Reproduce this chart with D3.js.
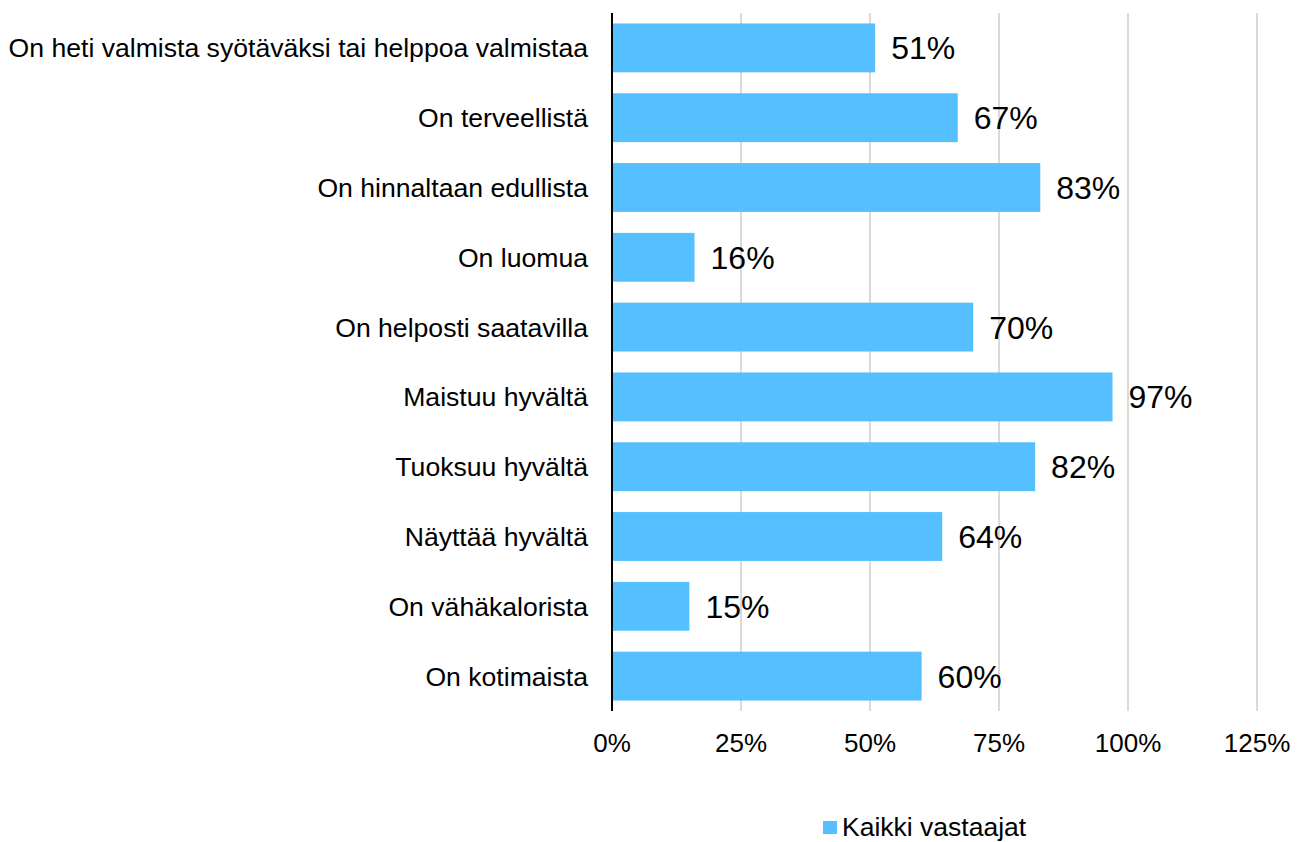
<!DOCTYPE html>
<meta charset="utf-8">
<style>
body { margin: 0; background: #fff; }
text { font-family: 'Liberation Sans', Arial, sans-serif; fill: #000; }
</style>
<body>
<svg width="1299" height="842"></svg>
<script src="https://d3js.org/d3.v7.min.js"></script>
<script>

var categories = [
  "On heti valmista syötäväksi tai helppoa valmistaa",
  "On terveellistä",
  "On hinnaltaan edullista",
  "On luomua",
  "On helposti saatavilla",
  "Maistuu hyvältä",
  "Tuoksuu hyvältä",
  "Näyttää hyvältä",
  "On vähäkalorista",
  "On kotimaista"
];
var values = [51, 67, 83, 16, 70, 97, 82, 64, 15, 60];
var ticks = [0, 25, 50, 75, 100, 125];
var seriesName = "Kaikki vastaajat";

var svg = d3.select("svg");
var color = "#55bfff";

var x = d3.scaleLinear().domain([0, 125]).range([612, 1257]);
var y = d3.scaleBand().domain(categories).range([13, 711]).paddingInner(0.3).paddingOuter(0.15);

// gridlines
svg.append("g").selectAll("line")
  .data(ticks.slice(1))
  .enter().append("line")
    .attr("x1", function(d) { return x(d); })
    .attr("x2", function(d) { return x(d); })
    .attr("y1", 13).attr("y2", 711)
    .attr("stroke", "#c6c6c6").attr("stroke-width", 1.3);

// bars
svg.append("g").selectAll("rect")
  .data(values)
  .enter().append("rect")
    .attr("x", x(0))
    .attr("y", function(d, i) { return y(categories[i]); })
    .attr("width", function(d) { return x(d) - x(0); })
    .attr("height", y.bandwidth())
    .attr("fill", color);

// value labels
svg.append("g").selectAll("text")
  .data(values)
  .enter().append("text")
    .attr("x", function(d) { return x(d) + 16; })
    .attr("y", function(d, i) { return y(categories[i]) + y.bandwidth() / 2; })
    .attr("dy", "0.36em")
    .style("font-size", "32px")
    .text(function(d) { return d + "%"; });

// y axis line
svg.append("line")
  .attr("x1", x(0)).attr("x2", x(0))
  .attr("y1", 13).attr("y2", 711)
  .attr("stroke", "#000").attr("stroke-width", 2);

// category labels
svg.append("g").selectAll("text")
  .data(categories)
  .enter().append("text")
    .attr("x", 588)
    .attr("y", function(d) { return y(d) + y.bandwidth() / 2; })
    .attr("dy", "0.36em")
    .attr("text-anchor", "end")
    .style("font-size", "26.6px")
    .text(function(d) { return d; });

// x tick labels
svg.append("g").selectAll("text")
  .data(ticks)
  .enter().append("text")
    .attr("x", function(d) { return x(d); })
    .attr("y", 752)
    .attr("text-anchor", "middle")
    .style("font-size", "26px")
    .text(function(d) { return d + "%"; });

// legend
var legend = svg.append("g").attr("transform", "translate(823,821)");
legend.append("rect").attr("width", 14).attr("height", 13).attr("fill", color);
legend.append("text")
  .attr("x", 19).attr("y", 15)
  .style("font-size", "26.5px")
  .text(seriesName);

</script>
